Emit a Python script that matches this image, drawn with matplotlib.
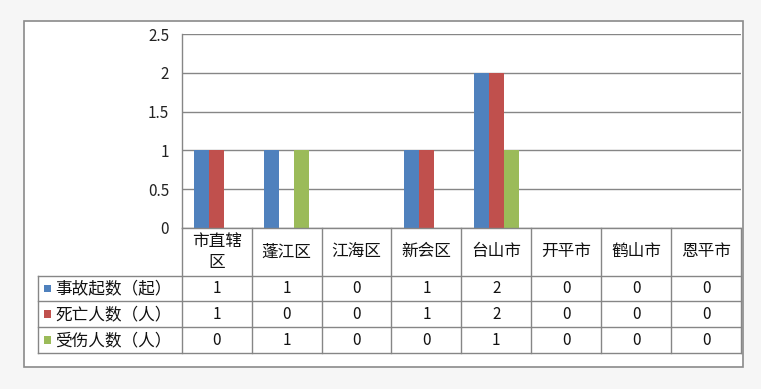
import numpy as np
import matplotlib
matplotlib.use("Agg")
import matplotlib.pyplot as plt
from matplotlib.lines import Line2D
from matplotlib.patches import Rectangle

plt.rcParams['font.family'] = ['Noto Sans CJK SC', 'DejaVu Sans']

# data
categories = ['市直辖\n区', '蓬江区', '江海区', '新会区', '台山市', '开平市', '鹤山市', '恩平市']
series_names = ['事故起数（起）', '死亡人数（人）', '受伤人数（人）']
accidents = [1, 1, 0, 1, 2, 0, 0, 0]
deaths = [1, 0, 0, 1, 2, 0, 0, 0]
injured = [0, 1, 0, 0, 1, 0, 0, 0]
yticks = [0, 0.5, 1, 1.5, 2, 2.5]
ytick_labels = ['0', '0.5', '1', '1.5', '2', '2.5']

colors = ['#4F81BD', '#C0504D', '#9BBB59']
grid_color = '#868686'
W, H = 761, 389

fig = plt.figure(figsize=(W / 100, H / 100), dpi=100)
fig.patch.set_facecolor('#f6f6f6')


def fx(x):
    return x / W


def fy(y):
    return 1 - y / H


def hline(x0, x1, y, color=grid_color, lw=1.0):
    fig.add_artist(Line2D([fx(x0), fx(x1)], [fy(y), fy(y)], color=color, lw=lw))


def vline(x, y0, y1, color=grid_color, lw=1.0):
    fig.add_artist(Line2D([fx(x), fx(x)], [fy(y0), fy(y1)], color=color, lw=lw))


# outer chart frame
fig.add_artist(Rectangle((fx(24), fy(367)), fx(743) - fx(24), fy(21) - fy(367),
                         facecolor='white', edgecolor='#8a8a8a', lw=1.2, zorder=0))

# plot area (pixel coords)
left, right, top, bottom = 181.7, 741, 34.3, 227.7
ax = fig.add_axes([fx(left), fy(bottom), fx(right) - fx(left), fy(top) - fy(bottom)])
ax.set_facecolor('none')

n = len(categories)
x = np.arange(n) + 0.5
bw = 0.215
values = [accidents, deaths, injured]
for i, (vals, c) in enumerate(zip(values, colors)):
    ax.bar(x + (i - 1) * bw, vals, width=bw, color=c, linewidth=0, zorder=3)

ax.set_xlim(0, n)
ax.set_ylim(0, 2.5)
ax.set_yticks(yticks)
ax.set_yticklabels(ytick_labels, fontsize=11, color='#222222')
ax.set_xticks([])
ax.tick_params(axis='y', length=0, pad=9)
ax.grid(axis='y', color=grid_color, lw=1.0, zorder=0)
for s in ['top', 'right', 'bottom']:
    ax.spines[s].set_visible(False)
ax.spines['left'].set_color(grid_color)
ax.spines['left'].set_linewidth(1.0)

# data table below the axis
leg_left = 37.7
col_w = (right - left) / n
row_edges = [bottom, 276, 301.3, 327.3, 353.3]

hline(left, right, bottom)
for y in row_edges[1:]:
    hline(leg_left, right, y)
vline(leg_left, row_edges[1], row_edges[-1])
for j in range(n + 1):
    vline(left + j * col_w, bottom, row_edges[-1])

for j, cat in enumerate(categories):
    cx = left + (j + 0.5) * col_w
    cy = (row_edges[0] + row_edges[1]) / 2
    fig.text(fx(cx), fy(cy), cat, ha='center', va='center', fontsize=12,
             color='#111111', linespacing=1.35)

for r, (name, vals, c) in enumerate(zip(series_names, values, colors)):
    cy = (row_edges[r + 1] + row_edges[r + 2]) / 2
    fig.add_artist(Rectangle((fx(43.5), fy(cy + 3.5)), fx(7.5), fy(0) - fy(7.5),
                             facecolor=c, edgecolor='none'))
    fig.text(fx(55), fy(cy), name, ha='left', va='center', fontsize=12, color='#111111')
    for j, v in enumerate(vals):
        cx = left + (j + 0.5) * col_w
        fig.text(fx(cx), fy(cy), str(v), ha='center', va='center', fontsize=11,
                 color='#111111')

fig.savefig('out.png', dpi=100, facecolor=fig.get_facecolor())
